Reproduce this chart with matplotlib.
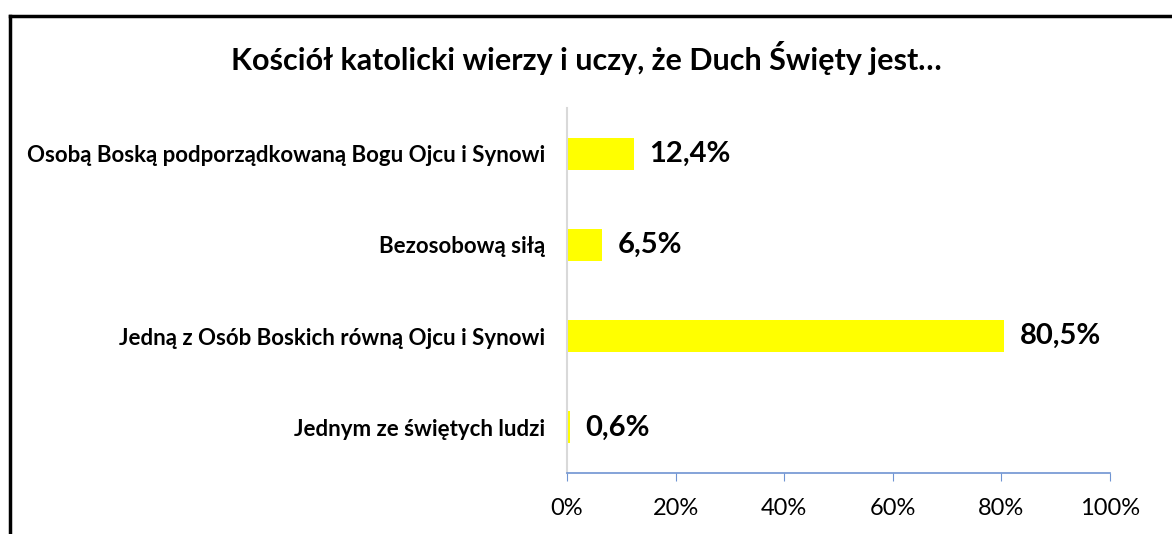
import matplotlib.pyplot as plt
from matplotlib.lines import Line2D

# Dane z wykresu
kategorie = [
    "Osobą Boską podporządkowaną Bogu Ojcu i Synowi",
    "Bezosobową siłą",
    "Jedną z Osób Boskich równą Ojcu i Synowi",
    "Jednym ze świętych ludzi",
]
wartosci = [12.4, 6.5, 80.5, 0.6]
etykiety = ["12,4%", "6,5%", "80,5%", "0,6%"]
ticki = [0, 20, 40, 60, 80, 100]
tytul = "Kościół katolicki wierzy i uczy, że Duch Święty jest…"

plt.rcParams['font.family'] = ['Lato', 'DejaVu Sans']

W, H = 1172, 534
fig = plt.figure(figsize=(W / 100, H / 100), dpi=100)
ax = fig.add_axes([567 / W, 1 - 473 / H, (1110 - 567) / W, (473 - 108) / H])

pozycje = list(range(len(kategorie)))
ax.barh(pozycje, wartosci, height=0.35, color='#FFFF00')
ax.set_ylim(len(kategorie) - 0.5, -0.5)
ax.set_xlim(0, 100)

for p, v, e in zip(pozycje, wartosci, etykiety):
    ax.annotate(e, (v, p), xytext=(11, 0), textcoords='offset points',
                va='center', ha='left', fontsize=21, fontweight='bold')

ax.set_yticks(pozycje)
ax.set_yticklabels(kategorie, fontsize=16, fontweight='bold')
ax.tick_params(axis='y', length=0, pad=16)
ax.set_xticks(ticks=ticki)
ax.set_xticklabels([f"{t}%" for t in ticki], fontsize=17)
ax.tick_params(axis='x', length=6, color='#6F94D2', pad=12)

for s in ['top', 'right']:
    ax.spines[s].set_visible(False)
ax.spines['bottom'].set_color('#6F94D2')
ax.spines['bottom'].set_linewidth(1.2)
ax.spines['left'].set_color('#D9D9D9')
ax.spines['left'].set_linewidth(1.5)

fig.text(0.5, 1 - 58 / H, tytul, ha='center', va='center', fontsize=22, fontweight='bold')

# ramka
fig.add_artist(Line2D([10 / W, 10 / W], [0, 1 - 16 / H], color='black', lw=2.5, transform=fig.transFigure))
fig.add_artist(Line2D([10 / W, 1], [1 - 16 / H, 1 - 16 / H], color='black', lw=2.5, transform=fig.transFigure))

fig.savefig('out.png', dpi=100)
